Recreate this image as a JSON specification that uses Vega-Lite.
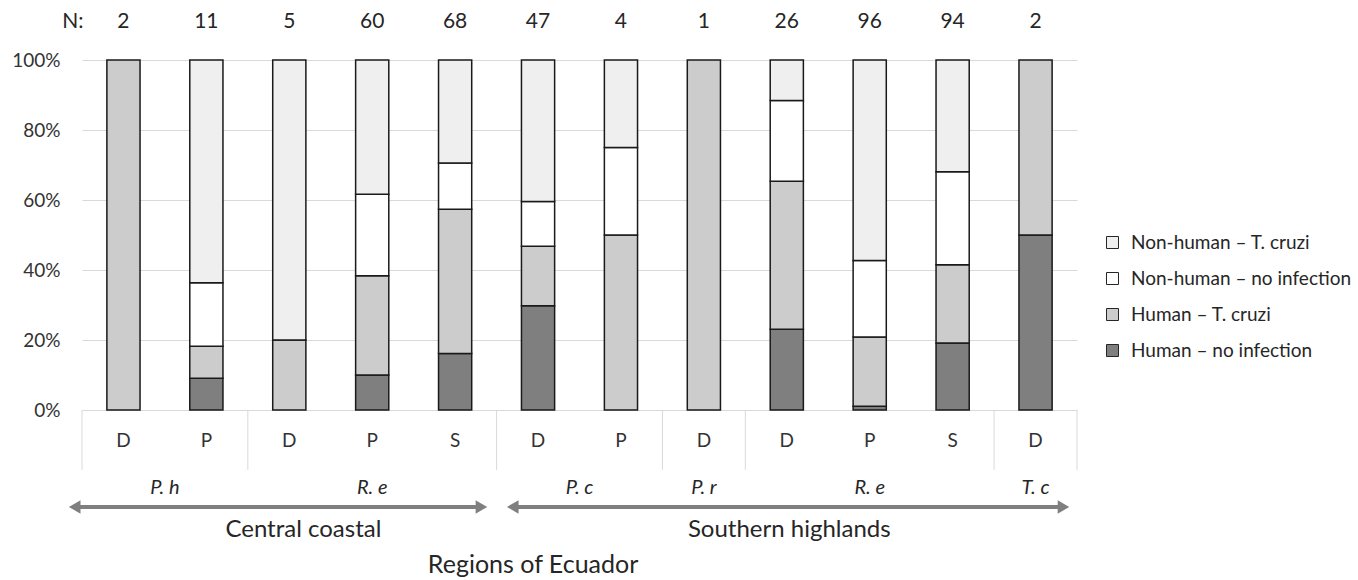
{
  "$schema": "https://vega.github.io/schema/vega-lite/v6.json",
  "width": 995,
  "height": 350,
  "autosize": {"type": "none"},
  "padding": {"left": 82, "top": 60, "right": 281, "bottom": 170},
  "background": "white",
  "config": {
    "font": "Lato",
    "view": {"stroke": null},
    "axisY": {
      "title": null,
      "format": "%",
      "tickCount": 10,
      "labelOverlap": false,
      "labelFontSize": 19,
      "labelColor": "#333333",
      "labelPadding": 22,
      "ticks": false,
      "domain": false,
      "grid": true,
      "gridColor": "#d9d9d9",
      "gridWidth": 1
    },
    "legend": {
      "orient": "none",
      "legendX": 1021,
      "legendY": 173,
      "padding": 0,
      "labelFontSize": 19,
      "labelColor": "#262626",
      "labelFont": "Lato",
      "labelLimit": 400,
      "symbolType": "square",
      "symbolSize": 144,
      "symbolStrokeColor": "#262626",
      "symbolStrokeWidth": 1,
      "rowPadding": 16,
      "labelOffset": 9,
      "title": null
    }
  },
  "datasets": {
    "counts": [
      {"bar": "Ph-D", "host": "Human", "status": "T. cruzi", "series": "Human – T. cruzi", "n": 2},
      {"bar": "Ph-P", "host": "Human", "status": "no infection", "series": "Human – no infection", "n": 1},
      {"bar": "Ph-P", "host": "Human", "status": "T. cruzi", "series": "Human – T. cruzi", "n": 1},
      {"bar": "Ph-P", "host": "Non-human", "status": "no infection", "series": "Non-human – no infection", "n": 2},
      {"bar": "Ph-P", "host": "Non-human", "status": "T. cruzi", "series": "Non-human – T. cruzi", "n": 7},
      {"bar": "Re1-D", "host": "Human", "status": "T. cruzi", "series": "Human – T. cruzi", "n": 1},
      {"bar": "Re1-D", "host": "Non-human", "status": "T. cruzi", "series": "Non-human – T. cruzi", "n": 4},
      {"bar": "Re1-P", "host": "Human", "status": "no infection", "series": "Human – no infection", "n": 6},
      {"bar": "Re1-P", "host": "Human", "status": "T. cruzi", "series": "Human – T. cruzi", "n": 17},
      {"bar": "Re1-P", "host": "Non-human", "status": "no infection", "series": "Non-human – no infection", "n": 14},
      {"bar": "Re1-P", "host": "Non-human", "status": "T. cruzi", "series": "Non-human – T. cruzi", "n": 23},
      {"bar": "Re1-S", "host": "Human", "status": "no infection", "series": "Human – no infection", "n": 11},
      {"bar": "Re1-S", "host": "Human", "status": "T. cruzi", "series": "Human – T. cruzi", "n": 28},
      {"bar": "Re1-S", "host": "Non-human", "status": "no infection", "series": "Non-human – no infection", "n": 9},
      {"bar": "Re1-S", "host": "Non-human", "status": "T. cruzi", "series": "Non-human – T. cruzi", "n": 20},
      {"bar": "Pc-D", "host": "Human", "status": "no infection", "series": "Human – no infection", "n": 14},
      {"bar": "Pc-D", "host": "Human", "status": "T. cruzi", "series": "Human – T. cruzi", "n": 8},
      {"bar": "Pc-D", "host": "Non-human", "status": "no infection", "series": "Non-human – no infection", "n": 6},
      {"bar": "Pc-D", "host": "Non-human", "status": "T. cruzi", "series": "Non-human – T. cruzi", "n": 19},
      {"bar": "Pc-P", "host": "Human", "status": "T. cruzi", "series": "Human – T. cruzi", "n": 2},
      {"bar": "Pc-P", "host": "Non-human", "status": "no infection", "series": "Non-human – no infection", "n": 1},
      {"bar": "Pc-P", "host": "Non-human", "status": "T. cruzi", "series": "Non-human – T. cruzi", "n": 1},
      {"bar": "Pr-D", "host": "Human", "status": "T. cruzi", "series": "Human – T. cruzi", "n": 1},
      {"bar": "Re2-D", "host": "Human", "status": "no infection", "series": "Human – no infection", "n": 6},
      {"bar": "Re2-D", "host": "Human", "status": "T. cruzi", "series": "Human – T. cruzi", "n": 11},
      {"bar": "Re2-D", "host": "Non-human", "status": "no infection", "series": "Non-human – no infection", "n": 6},
      {"bar": "Re2-D", "host": "Non-human", "status": "T. cruzi", "series": "Non-human – T. cruzi", "n": 3},
      {"bar": "Re2-P", "host": "Human", "status": "no infection", "series": "Human – no infection", "n": 1},
      {"bar": "Re2-P", "host": "Human", "status": "T. cruzi", "series": "Human – T. cruzi", "n": 19},
      {"bar": "Re2-P", "host": "Non-human", "status": "no infection", "series": "Non-human – no infection", "n": 21},
      {"bar": "Re2-P", "host": "Non-human", "status": "T. cruzi", "series": "Non-human – T. cruzi", "n": 55},
      {"bar": "Re2-S", "host": "Human", "status": "no infection", "series": "Human – no infection", "n": 18},
      {"bar": "Re2-S", "host": "Human", "status": "T. cruzi", "series": "Human – T. cruzi", "n": 21},
      {"bar": "Re2-S", "host": "Non-human", "status": "no infection", "series": "Non-human – no infection", "n": 25},
      {"bar": "Re2-S", "host": "Non-human", "status": "T. cruzi", "series": "Non-human – T. cruzi", "n": 30},
      {"bar": "Tc-D", "host": "Human", "status": "no infection", "series": "Human – no infection", "n": 1},
      {"bar": "Tc-D", "host": "Human", "status": "T. cruzi", "series": "Human – T. cruzi", "n": 1}
    ],
    "groups": [{"x": 0}, {"x": 2}, {"x": 5}, {"x": 7}, {"x": 8}, {"x": 11}, {"x": 12}],
    "species": [
      {"x": 1, "label": "P. h"},
      {"x": 3.5, "label": "R. e"},
      {"x": 6, "label": "P. c"},
      {"x": 7.5, "label": "P. r"},
      {"x": 9.5, "label": "R. e"},
      {"x": 11.5, "label": "T. c"}
    ],
    "arrows": [{"from": -0.088, "to": 4.817}, {"from": 5.195, "to": 11.837}],
    "heads": [
      {"x": -0.088, "dir": "left"},
      {"x": 4.817, "dir": "right"},
      {"x": 5.195, "dir": "left"},
      {"x": 11.837, "dir": "right"}
    ],
    "regions": [{"x": 2.67, "label": "Central coastal"}, {"x": 8.53, "label": "Southern highlands"}],
    "titles": [{"x": 5.44, "label": "Regions of Ecuador"}],
    "nlabel": [{"x": -0.11, "label": "N:"}]
  },
  "layer": [
    {
      "data": {"name": "counts"},
      "layer": [
        {
          "transform": [
            {
              "stack": "n",
              "groupby": ["bar"],
              "sort": [{"field": "host", "order": "ascending"}, {"field": "status", "order": "descending"}],
              "offset": "normalize",
              "as": ["lo", "hi"]
            }
          ],
          "mark": {"type": "bar", "stroke": "#1a1a1a", "strokeWidth": 1.5},
          "encoding": {
            "x": {
              "field": "bar",
              "type": "nominal",
              "sort": ["Ph-D", "Ph-P", "Re1-D", "Re1-P", "Re1-S", "Pc-D", "Pc-P", "Pr-D", "Re2-D", "Re2-P", "Re2-S", "Tc-D"],
              "scale": {"paddingInner": 0.6, "paddingOuter": 0.3},
              "axis": {
                "title": null,
                "labelExpr": "slice(datum.label, -1)",
                "labelAngle": 0,
                "labelFontSize": 19,
                "labelColor": "#333333",
                "labelPadding": 21,
                "ticks": false,
                "grid": false,
                "domainColor": "#d9d9d9",
                "domainWidth": 1
              }
            },
            "y": {
              "field": "hi",
              "type": "quantitative",
              "scale": {"domain": [0, 1], "nice": false},
              "axis": {
                "title": null,
                "format": "%",
                "tickCount": 10,
                "values": [0, 0.1, 0.2, 0.3, 0.4, 0.5, 0.6, 0.7, 0.8, 0.9, 1],
                "labelOverlap": false,
                "labelFontSize": 19,
                "labelColor": "#333333",
                "labelPadding": 22,
                "ticks": false,
                "domain": false,
                "grid": true,
                "gridColor": "#d9d9d9",
                "gridWidth": 1
              }
            },
            "y2": {"field": "lo"},
            "color": {
              "field": "series",
              "type": "nominal",
              "scale": {
                "domain": ["Non-human – T. cruzi", "Non-human – no infection", "Human – T. cruzi", "Human – no infection"],
                "range": ["#efefef", "#ffffff", "#cccccc", "#7f7f7f"]
              }
            }
          }
        },
        {
          "transform": [{"aggregate": [{"op": "sum", "field": "n", "as": "N"}], "groupby": ["bar"]}],
          "mark": {"type": "text", "fontSize": 21, "color": "#262626", "baseline": "middle"},
          "encoding": {
            "x": {
              "field": "bar",
              "type": "nominal",
              "sort": ["Ph-D", "Ph-P", "Re1-D", "Re1-P", "Re1-S", "Pc-D", "Pc-P", "Pr-D", "Re2-D", "Re2-P", "Re2-S", "Tc-D"]
            },
            "y": {"datum": 1.109, "type": "quantitative", "scale": {"domain": [0, 1], "nice": false}},
            "text": {"field": "N"}
          }
        }
      ]
    },
    {
      "layer": [
        {
          "data": {"name": "groups"},
          "mark": {"type": "rule", "color": "#d9d9d9", "strokeWidth": 1},
          "encoding": {
            "x": {"field": "x", "type": "quantitative", "scale": {"domain": [0, 12], "nice": false, "zero": false}, "axis": null},
            "y": {"datum": 0, "type": "quantitative", "scale": {"domain": [0, 1], "nice": false}},
            "y2": {"datum": -0.171}
          }
        },
        {
          "data": {"name": "species"},
          "mark": {"type": "text", "fontSize": 20, "fontStyle": "italic", "color": "#262626", "baseline": "middle"},
          "encoding": {
            "x": {"field": "x", "type": "quantitative", "scale": {"domain": [0, 12], "nice": false, "zero": false}, "axis": null},
            "y": {"datum": -0.222, "type": "quantitative", "scale": {"domain": [0, 1], "nice": false}},
            "text": {"field": "label"}
          }
        },
        {
          "data": {"name": "arrows"},
          "mark": {"type": "rule", "color": "#7f7f7f", "strokeWidth": 4},
          "encoding": {
            "x": {"field": "from", "type": "quantitative", "scale": {"domain": [0, 12], "nice": false, "zero": false}, "axis": null},
            "x2": {"field": "to"},
            "y": {"datum": -0.277, "type": "quantitative", "scale": {"domain": [0, 1], "nice": false}}
          }
        },
        {
          "data": {"name": "heads"},
          "mark": {"type": "point", "filled": true, "color": "#7f7f7f", "opacity": 1, "size": 180},
          "encoding": {
            "x": {"field": "x", "type": "quantitative", "scale": {"domain": [0, 12], "nice": false, "zero": false}, "axis": null},
            "y": {"datum": -0.277, "type": "quantitative", "scale": {"domain": [0, 1], "nice": false}},
            "shape": {"field": "dir", "type": "nominal", "scale": {"domain": ["left", "right"], "range": ["triangle-left", "triangle-right"]}, "legend": null}
          }
        },
        {
          "data": {"name": "regions"},
          "mark": {"type": "text", "fontSize": 24, "color": "#262626", "baseline": "middle"},
          "encoding": {
            "x": {"field": "x", "type": "quantitative", "scale": {"domain": [0, 12], "nice": false, "zero": false}, "axis": null},
            "y": {"datum": -0.343, "type": "quantitative", "scale": {"domain": [0, 1], "nice": false}},
            "text": {"field": "label"}
          }
        },
        {
          "data": {"name": "titles"},
          "mark": {"type": "text", "fontSize": 25, "color": "#262626", "baseline": "middle"},
          "encoding": {
            "x": {"field": "x", "type": "quantitative", "scale": {"domain": [0, 12], "nice": false, "zero": false}, "axis": null},
            "y": {"datum": -0.443, "type": "quantitative", "scale": {"domain": [0, 1], "nice": false}},
            "text": {"field": "label"}
          }
        },
        {
          "data": {"name": "nlabel"},
          "mark": {"type": "text", "fontSize": 21, "color": "#262626", "baseline": "middle"},
          "encoding": {
            "x": {"field": "x", "type": "quantitative", "scale": {"domain": [0, 12], "nice": false, "zero": false}, "axis": null},
            "y": {"datum": 1.109, "type": "quantitative", "scale": {"domain": [0, 1], "nice": false}},
            "text": {"field": "label"}
          }
        }
      ]
    }
  ],
  "resolve": {"scale": {"x": "independent"}}
}
